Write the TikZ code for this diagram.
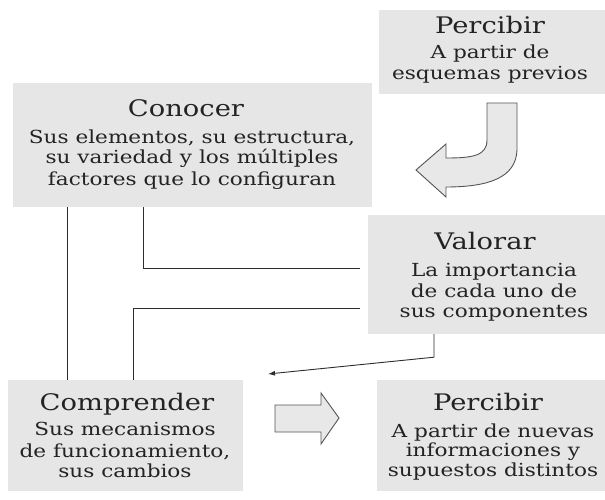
\documentclass[tikz,border=0pt]{standalone}
\usepackage{fontspec}
\setmainfont{DejaVu Serif}[FakeStretch=1.2]
\usetikzlibrary{arrows.meta}
\definecolor{boxgray}{RGB}{230,230,231}
\definecolor{arrowgray}{RGB}{232,232,232}
\definecolor{arrowline}{RGB}{85,85,85}
\definecolor{linegray}{RGB}{45,45,45}
\definecolor{txt}{RGB}{35,35,35}
\begin{document}
\begin{tikzpicture}[x=1pt,y=-1pt,
  box/.style={rectangle, fill=boxgray, draw=none, inner sep=0pt},
  ttl/.style={anchor=base, font=\fontsize{22.8}{26}\selectfont, text=txt, inner sep=0pt},
  bdy/.style={anchor=base, font=\fontsize{18}{21}\selectfont, text=txt, inner sep=0pt},
  conn/.style={draw=linegray, line width=0.9pt},
  blockarrow/.style={fill=arrowgray, draw=arrowline, line width=0.9pt, line join=miter}]
\useasboundingbox (0,0) rectangle (605,500);
% boxes
\node[box, minimum width=226pt, minimum height=84pt] (perc1) at (492,52) {};
\node[box, minimum width=359pt, minimum height=124pt] (conocer) at (192.5,145) {};
\node[box, minimum width=237pt, minimum height=119pt] (valorar) at (486.5,274.5) {};
\node[box, minimum width=235pt, minimum height=111pt] (comprender) at (125.5,435.5) {};
\node[box, minimum width=228pt, minimum height=111pt] (perc2) at (491,435.5) {};
% texts
\node[ttl] (p1t) at (490,34) {Percibir};
\node[bdy] (p1a) at (490,59) {A partir de};
\node[bdy] (p1b) at (490,80) {esquemas previos};
\node[ttl] (ct) at (186,117) {Conocer};
\node[bdy] (ca) at (192,144) {Sus elementos, su estructura,};
\node[bdy] (cb) at (192,164) {su variedad y los múltiples};
\node[bdy] (cc) at (192,185) {factores que lo configuran};
\node[ttl] (vt) at (485,249) {Valorar};
\node[bdy] (va) at (494,276) {La importancia};
\node[bdy] (vb) at (494,297) {de cada uno de};
\node[bdy] (vc2) at (494,317) {sus componentes};
\node[ttl] (cmt) at (127,410) {Comprender};
\node[bdy] (cma) at (125,435) {Sus mecanismos};
\node[bdy] (cmb) at (125,457) {de funcionamiento,};
\node[bdy] (cmc) at (125,477) {sus cambios};
\node[ttl] (p2t) at (488,410) {Percibir};
\node[bdy] (p2a) at (493,437) {A partir de nuevas};
\node[bdy] (p2b) at (493,456) {informaciones y};
\node[bdy] (p2c) at (493,476) {supuestos distintos};
% block arrows
\draw[blockarrow] (487,103) -- (517,103) -- (517,150)
  .. controls (516,178) and (488,187) .. (446,187) -- (446,197) -- (416,170)
  -- (446,144) -- (446,158) .. controls (472,158) and (487,156) .. (487,140) -- cycle;
\draw[blockarrow] (275,405) -- (321,405) -- (321,393) -- (339,418) -- (321,444)
  -- (321,432) -- (275,432) -- cycle;
% connectors
\coordinate (cv) at (360,268);
\coordinate (vc) at (360,308);
\coordinate (tip) at (268,374);
\draw[conn] ([xshift=131pt]conocer.south west) |- (cv);
\draw[conn] ([xshift=55pt]conocer.south west) -- ([xshift=60pt]comprender.north west);
\draw[conn] ([xshift=126pt]comprender.north west) |- (vc);
\draw[conn, -{Latex[length=7pt,width=5pt]}] ([xshift=-52.5pt]valorar.south) -- ++(0,23) -- (tip);
\end{tikzpicture}
\end{document}
